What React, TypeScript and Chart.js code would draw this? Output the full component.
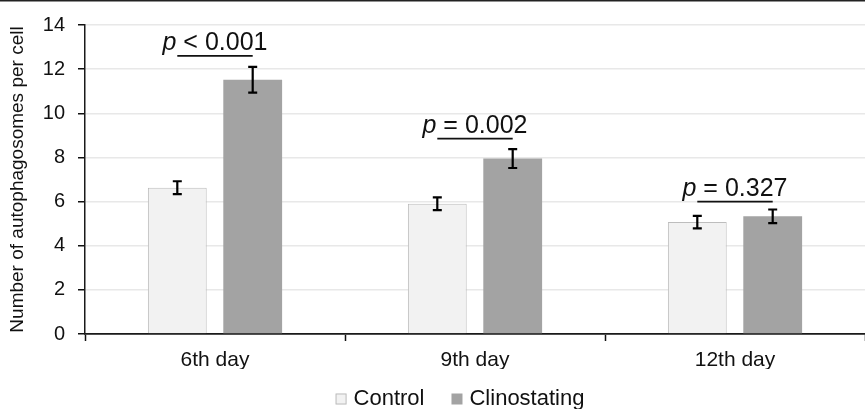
import React, { useEffect, useRef } from "react";
import { Chart, registerables } from "chart.js";

Chart.register(...registerables);

const categories = ["6th day", "9th day", "12th day"];
const controlMeans = [6.63, 5.9, 5.07];
const controlErrors = [0.29, 0.29, 0.28];
const clinoMeans = [11.52, 7.95, 5.33];
const clinoErrors = [0.58, 0.43, 0.31];
const pLabels = ["< 0.001", "= 0.002", "= 0.327"];
const bracketLevels = [12.6, 8.85, 6.0];
const yMin = 0;
const yMax = 14;
const yStep = 2;

const FONT = "'Liberation Sans', Arial, sans-serif";
const TEXT = "#111111";

const seriesErrors = [controlErrors, clinoErrors];

const annotationsPlugin = {
  id: "annotations",
  afterDatasetsDraw(chart: any) {
    const ctx = chart.ctx;
    const yScale = chart.scales.y;
    const xScale = chart.scales.x;
    ctx.save();
    // error bars
    chart.data.datasets.forEach((ds: any, i: number) => {
      const meta = chart.getDatasetMeta(i);
      const errs = seriesErrors[i];
      meta.data.forEach((bar: any, j: number) => {
        const v = ds.data[j];
        const e = errs[j];
        const yTop = yScale.getPixelForValue(v + e);
        const yBot = yScale.getPixelForValue(v - e);
        const x = bar.x;
        ctx.strokeStyle = "#000";
        ctx.lineWidth = 2.2;
        ctx.beginPath();
        ctx.moveTo(x, yTop);
        ctx.lineTo(x, yBot);
        ctx.moveTo(x - 4.5, yTop);
        ctx.lineTo(x + 4.5, yTop);
        ctx.moveTo(x - 4.5, yBot);
        ctx.lineTo(x + 4.5, yBot);
        ctx.stroke();
      });
    });
    // significance brackets
    const m0 = chart.getDatasetMeta(0);
    const m1 = chart.getDatasetMeta(1);
    categories.forEach((_c, j) => {
      const y = yScale.getPixelForValue(bracketLevels[j]);
      const x1 = m0.data[j].x;
      const x2 = m1.data[j].x;
      ctx.strokeStyle = "#111";
      ctx.lineWidth = 1.8;
      ctx.beginPath();
      ctx.moveTo(x1, y);
      ctx.lineTo(x2, y);
      ctx.stroke();
      const cx = xScale.getPixelForValue(j);
      ctx.fillStyle = TEXT;
      ctx.textBaseline = "alphabetic";
      ctx.textAlign = "left";
      ctx.font = `italic 25px ${FONT}`;
      const wp = ctx.measureText("p").width;
      ctx.font = `25px ${FONT}`;
      const rest = " " + pLabels[j];
      const wr = ctx.measureText(rest).width;
      const start = cx - (wp + wr) / 2;
      ctx.font = `italic 25px ${FONT}`;
      ctx.fillText("p", start, y - 6);
      ctx.font = `25px ${FONT}`;
      ctx.fillText(rest, start + wp, y - 6);
    });
    ctx.restore();
  },
  afterDraw(chart: any) {
    const ctx = chart.ctx;
    ctx.save();
    // top border line
    ctx.fillStyle = "#222";
    ctx.fillRect(0, 0, chart.width, 1.5);
    // legend
    const area = chart.chartArea;
    ctx.font = `22px ${FONT}`;
    const box = 11;
    const gapText = 7;
    const gapItem = 27;
    const items = chart.data.datasets.map((ds: any) => ({
      text: ds.label,
      fill: ds.backgroundColor,
      border: ds.borderWidth ? ds.borderColor : null,
      w: ctx.measureText(ds.label).width,
    }));
    let total = 0;
    items.forEach((it: any, i: number) => {
      total += box + gapText + it.w + (i > 0 ? gapItem : 0);
    });
    let x = (area.left + area.right) / 2 - 15 - total / 2;
    const cy = 399;
    items.forEach((it: any, i: number) => {
      if (i > 0) x += gapItem;
      ctx.fillStyle = it.fill;
      ctx.fillRect(x, cy - box / 2, box, box);
      if (it.border) {
        ctx.strokeStyle = it.border;
        ctx.lineWidth = 1;
        ctx.strokeRect(x + 0.5, cy - box / 2 + 0.5, box - 1, box - 1);
      }
      x += box + gapText;
      ctx.fillStyle = TEXT;
      ctx.textBaseline = "middle";
      ctx.textAlign = "left";
      ctx.fillText(it.text, x, cy);
      x += it.w;
    });
    ctx.restore();
  },
};

export default function App() {
  const ref = useRef<HTMLCanvasElement | null>(null);
  useEffect(() => {
    if (!ref.current) return;
    const chart = new Chart(ref.current, {
      type: "bar",
      data: {
        labels: categories,
        datasets: [
          {
            label: "Control",
            data: controlMeans,
            backgroundColor: "#f2f2f2",
            borderColor: "#bdbdbd",
            borderWidth: 1,
            categoryPercentage: 0.58,
            barPercentage: 0.78,
          },
          {
            label: "Clinostating",
            data: clinoMeans,
            backgroundColor: "#a3a3a3",
            borderColor: "#a3a3a3",
            borderWidth: 0,
            categoryPercentage: 0.58,
            barPercentage: 0.78,
          },
        ],
      },
      options: {
        responsive: false,
        animation: false,
        layout: { padding: { top: 22, right: 0, left: 0, bottom: 40 } },
        plugins: {
          legend: { display: false },
          tooltip: { enabled: false },
        },
        scales: {
          x: {
            afterFit: (s: any) => {
              s.height = 35;
            },
            grid: {
              display: true,
              drawOnChartArea: false,
              drawTicks: true,
              tickLength: 7,
              tickColor: "#111",
              tickWidth: 1.5,
              offset: true,
            },
            border: { display: true, color: "#1a1a1a", width: 1.8 },
            ticks: {
              color: TEXT,
              font: { size: 21, family: FONT },
              padding: 7,
            },
          },
          y: {
            min: yMin,
            max: yMax,
            afterFit: (s: any) => {
              s.width = 85;
            },
            ticks: {
              stepSize: yStep,
              color: TEXT,
              font: { size: 20, family: FONT },
              padding: 13,
            },
            grid: {
              color: "#e8e8e8",
              lineWidth: 1.5,
              tickLength: 7,
              tickColor: "#111",
              tickWidth: 1.5,
            },
            border: { display: true, color: "#1a1a1a", width: 1.5 },
            title: {
              display: true,
              text: "Number of autophagosomes per cell",
              color: TEXT,
              font: { size: 19, family: FONT },
              padding: { top: 6, bottom: 0 },
            },
          },
        },
      },
      plugins: [annotationsPlugin],
    });
    return () => chart.destroy();
  }, []);
  return (
    <div style={{ position: "fixed", left: 0, top: 0, width: 865, height: 409, background: "#fff" }}>
      <canvas ref={ref} width={865} height={409} style={{ display: "block" }} />
    </div>
  );
}
